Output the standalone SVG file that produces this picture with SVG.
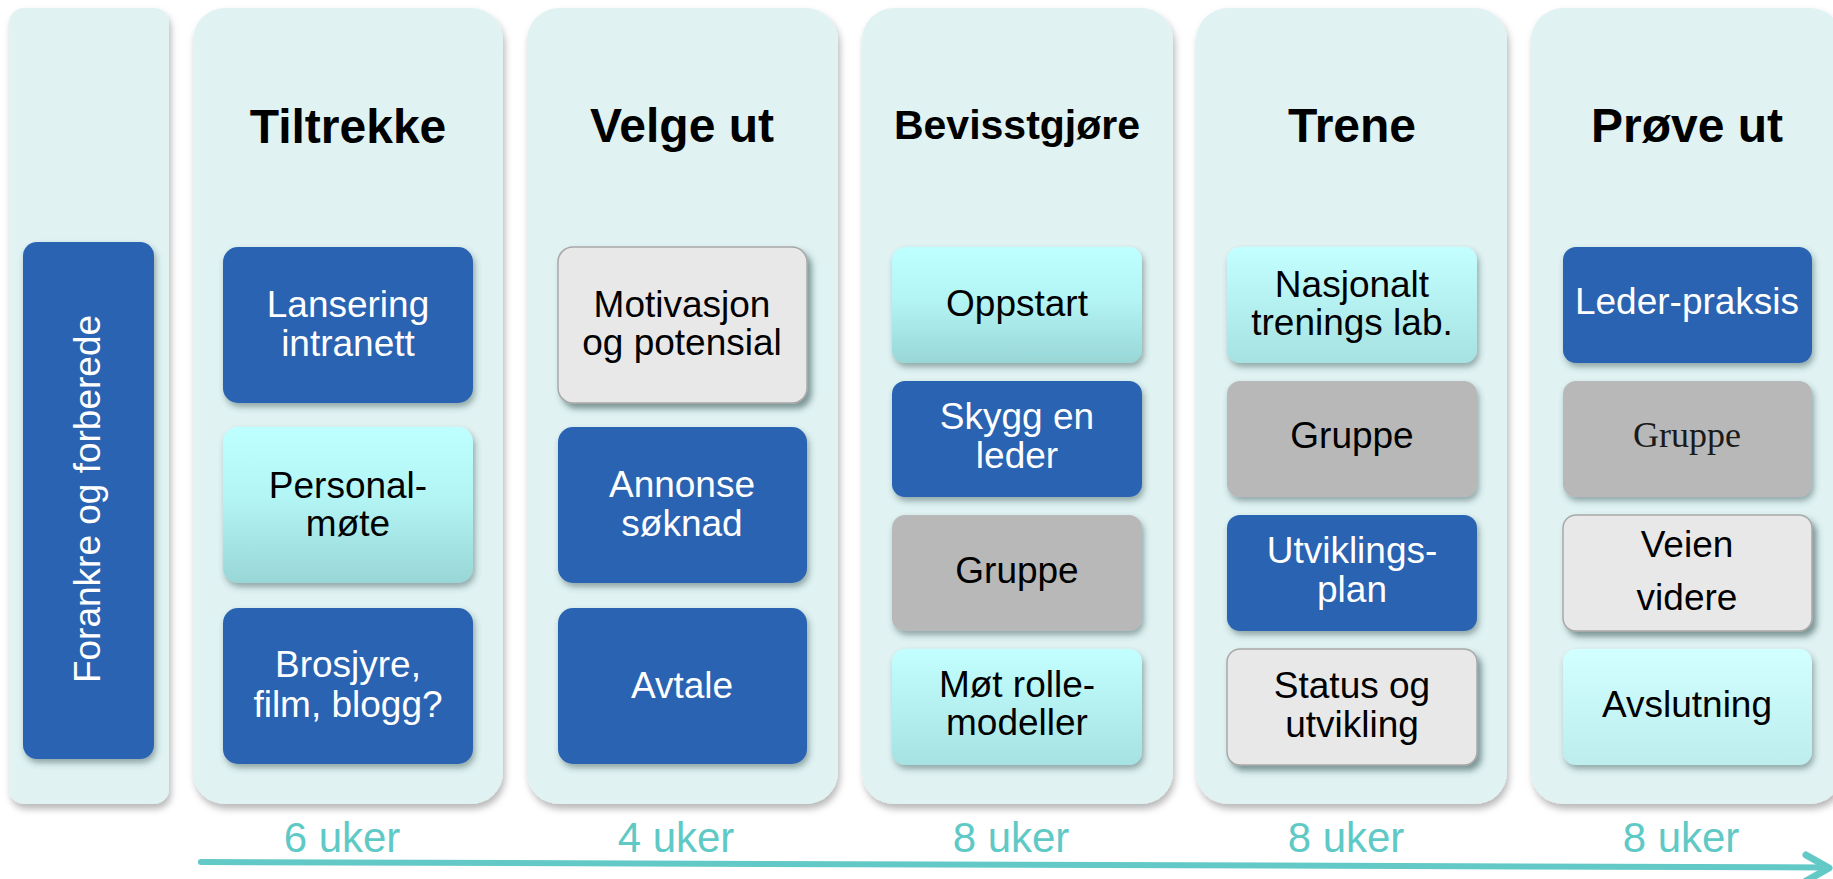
<svg xmlns="http://www.w3.org/2000/svg" width="1833" height="879" viewBox="0 0 1833 879">
  <defs>
    <filter id="panelShadow" x="-10%" y="-10%" width="120%" height="120%">
      <feDropShadow dx="2" dy="5" stdDeviation="3.5" flood-color="#000" flood-opacity="0.28"/>
    </filter>
    <filter id="nodeShadow" x="-10%" y="-10%" width="125%" height="130%">
      <feDropShadow dx="2" dy="4" stdDeviation="3" flood-color="#2b4848" flood-opacity="0.45"/>
    </filter>
    <filter id="outlineShadow" x="-10%" y="-10%" width="125%" height="130%">
      <feDropShadow dx="4" dy="5" stdDeviation="3" flood-color="#2b4848" flood-opacity="0.55"/>
    </filter>
    <linearGradient id="cyan" x1="0" y1="0" x2="0" y2="1">
      <stop offset="0" stop-color="#BEFFFF"/>
      <stop offset="0.45" stop-color="#B3F4F4"/>
      <stop offset="1" stop-color="#99D7D7"/>
    </linearGradient>
    <linearGradient id="cyanSoft" x1="0" y1="0" x2="0" y2="1">
      <stop offset="0" stop-color="#C4FFFF"/>
      <stop offset="1" stop-color="#A6E2E2"/>
    </linearGradient>
    <linearGradient id="cyanPale" x1="0" y1="0" x2="0" y2="1">
      <stop offset="0" stop-color="#D2FFFF"/>
      <stop offset="1" stop-color="#BDEDED"/>
    </linearGradient>
    <style>
      .panel { fill: #E0F2F2; filter: url(#panelShadow); }
      .blue { fill: #2A63B2; filter: url(#nodeShadow); }
      .cyan { fill: url(#cyan); filter: url(#nodeShadow); }
      .cyanSoft { fill: url(#cyanSoft); filter: url(#nodeShadow); }
      .cyanPale { fill: url(#cyanPale); filter: url(#nodeShadow); }
      .grey { fill: #B8B8B8; filter: url(#nodeShadow); }
      .light { fill: #E8E8E8; stroke: #A8A8A8; stroke-width: 1.5; filter: url(#outlineShadow); }
      text { font-family: "Liberation Sans", Arial, sans-serif; text-anchor: middle; }
      .title { font-size: 48px; font-weight: bold; fill: #000; }
      .lbl { font-size: 37px; }
      .w { fill: #FFFFFF; }
      .k { fill: #000000; }
      .serif { font-family: "Liberation Serif", "Times New Roman", serif; font-size: 36px; fill: #1a1a1a; }
      .weeks { font-size: 42px; fill: #5FC9C6; }
      .timeline { stroke: #62C9C6; stroke-width: 6; fill: none; stroke-linecap: round; stroke-linejoin: round; }
    </style>
  </defs>

  <rect width="1833" height="879" fill="#FFFFFF"/>

  <!-- phase columns -->
  <g id="panels">
    <rect class="panel" x="9" y="8" width="160" height="796" rx="15"/>
    <rect class="panel" x="193" y="8" width="310" height="796" rx="32"/>
    <rect class="panel" x="527" y="8" width="311" height="796" rx="32"/>
    <rect class="panel" x="862" y="8" width="311" height="796" rx="32"/>
    <rect class="panel" x="1196" y="8" width="311" height="796" rx="32"/>
    <rect class="panel" x="1531" y="8" width="311" height="796" rx="32"/>
  </g>

  <!-- column headings -->
  <g id="titles">
    <text class="title" x="348" y="143">Tiltrekke</text>
    <text class="title" x="682" y="142">Velge ut</text>
    <text class="title" x="1017" y="139" style="font-size:41px">Bevisstgjøre</text>
    <text class="title" x="1352" y="142">Trene</text>
    <text class="title" x="1687" y="142">Prøve ut</text>
  </g>

  <!-- preparation -->
  <g id="node-forankre">
    <rect class="blue" x="23" y="242" width="131" height="517" rx="14"/>
    <text class="lbl w" transform="translate(100 499) rotate(-90)" x="0" y="0">Forankre og forberede</text>
  </g>

  <!-- Tiltrekke -->
  <g id="node-lansering">
    <rect class="blue" x="223" y="247" width="250" height="156" rx="15"/>
    <text class="lbl w" x="348" y="317">Lansering</text>
    <text class="lbl w" x="348" y="356">intranett</text>
  </g>
  <g id="node-personalmote">
    <rect class="cyan" x="223" y="427" width="250" height="156" rx="15"/>
    <text class="lbl k" x="348" y="498">Personal-</text>
    <text class="lbl k" x="348" y="536">møte</text>
  </g>
  <g id="node-brosjyre">
    <rect class="blue" x="223" y="608" width="250" height="156" rx="15"/>
    <text class="lbl w" x="348" y="677">Brosjyre,</text>
    <text class="lbl w" x="348" y="717">film, blogg?</text>
  </g>

  <!-- Velge ut -->
  <g id="node-motivasjon">
    <rect class="light" x="558" y="247" width="249" height="156" rx="15"/>
    <text class="lbl k" x="682" y="317">Motivasjon</text>
    <text class="lbl k" x="682" y="355">og potensial</text>
  </g>
  <g id="node-annonse">
    <rect class="blue" x="558" y="427" width="249" height="156" rx="15"/>
    <text class="lbl w" x="682" y="497">Annonse</text>
    <text class="lbl w" x="682" y="536">søknad</text>
  </g>
  <g id="node-avtale">
    <rect class="blue" x="558" y="608" width="249" height="156" rx="15"/>
    <text class="lbl w" x="682" y="698">Avtale</text>
  </g>

  <!-- Bevisstgjøre -->
  <g id="node-oppstart">
    <rect class="cyan" x="892" y="247" width="250" height="116" rx="13"/>
    <text class="lbl k" x="1017" y="316">Oppstart</text>
  </g>
  <g id="node-skygg">
    <rect class="blue" x="892" y="381" width="250" height="116" rx="13"/>
    <text class="lbl w" x="1017" y="429">Skygg en</text>
    <text class="lbl w" x="1017" y="468">leder</text>
  </g>
  <g id="node-gruppe-1">
    <rect class="grey" x="892" y="515" width="250" height="116" rx="13"/>
    <text class="lbl k" x="1017" y="583">Gruppe</text>
  </g>
  <g id="node-rollemodeller">
    <rect class="cyanSoft" x="892" y="649" width="250" height="116" rx="13"/>
    <text class="lbl k" x="1017" y="697">Møt rolle-</text>
    <text class="lbl k" x="1017" y="735">modeller</text>
  </g>

  <!-- Trene -->
  <g id="node-nasjonalt">
    <rect class="cyanSoft" x="1227" y="247" width="250" height="116" rx="13"/>
    <text class="lbl k" x="1352" y="297">Nasjonalt</text>
    <text class="lbl k" x="1352" y="335">trenings lab.</text>
  </g>
  <g id="node-gruppe-2">
    <rect class="grey" x="1227" y="381" width="250" height="116" rx="13"/>
    <text class="lbl k" x="1352" y="448">Gruppe</text>
  </g>
  <g id="node-utviklingsplan">
    <rect class="blue" x="1227" y="515" width="250" height="116" rx="13"/>
    <text class="lbl w" x="1352" y="563">Utviklings-</text>
    <text class="lbl w" x="1352" y="602">plan</text>
  </g>
  <g id="node-status">
    <rect class="light" x="1227" y="649" width="250" height="116" rx="13"/>
    <text class="lbl k" x="1352" y="698">Status og</text>
    <text class="lbl k" x="1352" y="737">utvikling</text>
  </g>

  <!-- Prøve ut -->
  <g id="node-lederpraksis">
    <rect class="blue" x="1563" y="247" width="249" height="116" rx="13"/>
    <text class="lbl w" x="1687" y="314">Leder-praksis</text>
  </g>
  <g id="node-gruppe-3">
    <rect class="grey" x="1563" y="381" width="249" height="116" rx="13"/>
    <text class="serif" x="1687" y="447">Gruppe</text>
  </g>
  <g id="node-veien">
    <rect class="light" x="1563" y="515" width="249" height="116" rx="13"/>
    <text class="lbl k" x="1687" y="557">Veien</text>
    <text class="lbl k" x="1687" y="610">videre</text>
  </g>
  <g id="node-avslutning">
    <rect class="cyanPale" x="1563" y="649" width="249" height="116" rx="13"/>
    <text class="lbl k" x="1687" y="717">Avslutning</text>
  </g>

  <!-- durations -->
  <g id="durations">
    <text class="weeks" x="342" y="852">6 uker</text>
    <text class="weeks" x="676" y="852">4 uker</text>
    <text class="weeks" x="1011" y="852">8 uker</text>
    <text class="weeks" x="1346" y="852">8 uker</text>
    <text class="weeks" x="1681" y="852">8 uker</text>
  </g>

  <!-- time axis -->
  <g id="connectors">
    <line class="timeline" x1="201" y1="862" x2="1827" y2="867.5"/>
    <polyline class="timeline" style="stroke-width:7" points="1806,855 1829,868 1806,881"/>
  </g>
</svg>
